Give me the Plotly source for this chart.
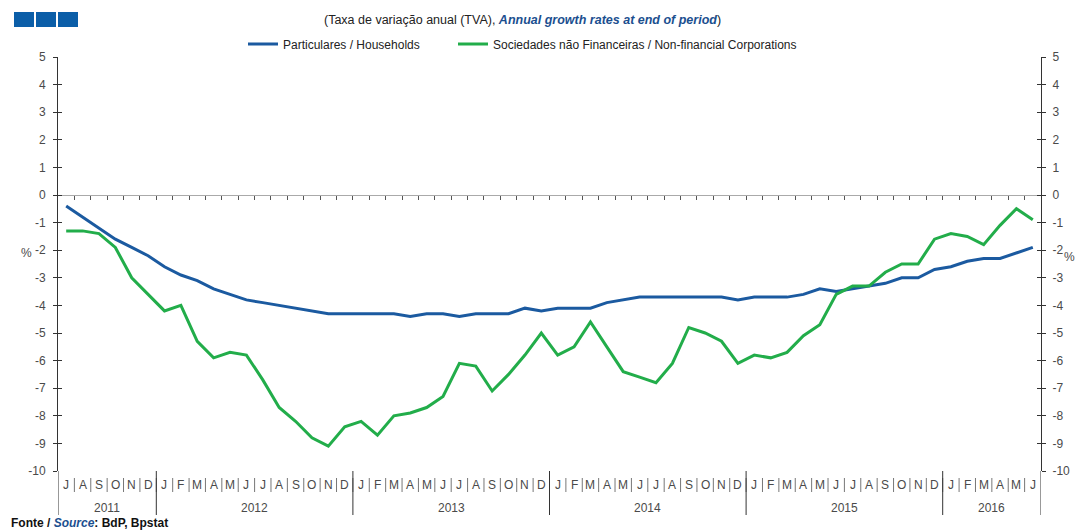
import plotly.graph_objects as go

# ---------------- data ----------------
month_letters = ["J","A","S","O","N","D",
                 "J","F","M","A","M","J","J","A","S","O","N","D",
                 "J","F","M","A","M","J","J","A","S","O","N","D",
                 "J","F","M","A","M","J","J","A","S","O","N","D",
                 "J","F","M","A","M","J","J","A","S","O","N","D",
                 "J","F","M","A","M","J"]
years = ["2011", "2012", "2013", "2014", "2015", "2016"]
months_per_year = [6, 12, 12, 12, 12, 6]

households = [-0.4, -0.8, -1.2, -1.6, -1.9, -2.2,
              -2.6, -2.9, -3.1, -3.4, -3.6, -3.8, -3.9, -4.0, -4.1, -4.2, -4.3, -4.3,
              -4.3, -4.3, -4.3, -4.4, -4.3, -4.3, -4.4, -4.3, -4.3, -4.3, -4.1, -4.2,
              -4.1, -4.1, -4.1, -3.9, -3.8, -3.7, -3.7, -3.7, -3.7, -3.7, -3.7, -3.8,
              -3.7, -3.7, -3.7, -3.6, -3.4, -3.5, -3.4, -3.3, -3.2, -3.0, -3.0, -2.7,
              -2.6, -2.4, -2.3, -2.3, -2.1, -1.9]

nfc = [-1.3, -1.3, -1.4, -1.9, -3.0, -3.6,
       -4.2, -4.0, -5.3, -5.9, -5.7, -5.8, -6.7, -7.7, -8.2, -8.8, -9.1, -8.4,
       -8.2, -8.7, -8.0, -7.9, -7.7, -7.3, -6.1, -6.2, -7.1, -6.5, -5.8, -5.0,
       -5.8, -5.5, -4.6, -5.5, -6.4, -6.6, -6.8, -6.1, -4.8, -5.0, -5.3, -6.1,
       -5.8, -5.9, -5.7, -5.1, -4.7, -3.6, -3.3, -3.3, -2.8, -2.5, -2.5, -1.6,
       -1.4, -1.5, -1.8, -1.1, -0.5, -0.9]

y_ticks = [5, 4, 3, 2, 1, 0, -1, -2, -3, -4, -5, -6, -7, -8, -9, -10]

series_names = ["Particulares / Households",
                "Sociedades não Financeiras / Non-financial Corporations"]

# ---------------- styling ----------------
BLUE = "#1b5aa0"
GREEN = "#22ad4a"
TXT = "#4a4a4a"
FONT = "Liberation Sans, Arial, sans-serif"
OFF = 8                      # page body margin offset
W, H = 1083 - OFF, 531 - OFF
PL, PR, PT, PB = 58, 1041, 57, 471   # plot area in page pixels
L, T = PL - OFF, PT - OFF
R, B = W - (PR - OFF), H - (PB - OFF)
PW = PR - PL
PH = PB - PT

def px_x(p):
    return (p - PL) / PW

def px_y(p):
    return (PB - p) / PH

n = len(households)
x = list(range(n))

fig = go.Figure()
fig.add_trace(go.Scatter(x=x, y=households, mode="lines", name=series_names[0],
                         line=dict(color=BLUE, width=3), hoverinfo="skip", legend="legend"))
fig.add_trace(go.Scatter(x=x, y=nfc, mode="lines", name=series_names[1],
                         line=dict(color=GREEN, width=3), hoverinfo="skip", legend="legend2"))
# invisible helpers so overlay axes are drawn
for ax in ["y2", "y3", "y4"]:
    fig.add_trace(go.Scatter(x=x, y=households, mode="lines", yaxis=ax, showlegend=False,
                             line=dict(width=0, color="rgba(0,0,0,0)"), hoverinfo="skip"))

yrng = [-10, 5]
tick_text = [str(v) for v in y_ticks]
base_y = dict(range=yrng, tickvals=y_ticks, ticktext=tick_text, showgrid=False, zeroline=False,
              showline=True, linecolor="#333", linewidth=1, tickcolor="#333")
label_font = dict(family=FONT, size=12, color=TXT)
leg_font = dict(family=FONT, size=12, color="#222")

fig.update_layout(
    width=W, height=H,
    margin=dict(l=L, r=R, t=T, b=B, autoexpand=False),
    paper_bgcolor="white", plot_bgcolor="white",
    font=dict(family=FONT, size=12, color=TXT),
    xaxis=dict(range=[-0.5, n - 0.5], anchor="free", position=10 / 15,
               showgrid=False, zeroline=False, showline=True, linecolor="#aaa",
               linewidth=1, ticks="outside", ticklen=4, tickcolor="#555",
               tickvals=[i - 0.5 for i in range(1, n)], showticklabels=False),
    yaxis=dict(side="left", ticks="outside", ticklen=4, tickfont=label_font,
               ticklabelstandoff=5, **base_y),
    yaxis3=dict(side="left", overlaying="y", ticks="inside", ticklen=4,
                showticklabels=False, **base_y),
    yaxis2=dict(side="right", overlaying="y", ticks="outside", ticklen=4, tickfont=label_font,
                ticklabelstandoff=4, **base_y),
    yaxis4=dict(side="right", overlaying="y", ticks="inside", ticklen=4,
                showticklabels=False, **base_y),
    legend=dict(orientation="h", x=px_x(243), xanchor="left", y=px_y(44), yanchor="middle",
                font=leg_font, bgcolor="rgba(0,0,0,0)", itemwidth=30),
    legend2=dict(orientation="h", x=px_x(453), xanchor="left", y=px_y(44), yanchor="middle",
                 font=leg_font, bgcolor="rgba(0,0,0,0)", itemwidth=30),
    showlegend=True,
)

shapes = []
annotations = []

# month labels and separators
for i, m in enumerate(month_letters):
    annotations.append(dict(x=i, y=px_y(485), xref="x", yref="paper", text=m,
                            showarrow=False, font=dict(family=FONT, size=12, color=TXT),
                            xanchor="center", yanchor="middle"))
for i in range(1, n):
    shapes.append(dict(type="line", xref="x", yref="paper", x0=i - 0.5, x1=i - 0.5,
                       y0=px_y(478), y1=px_y(492), line=dict(color="#777", width=1)))

# year separators and labels
start = 0
bounds = [0]
for cnt in months_per_year:
    start += cnt
    bounds.append(start)
for b in bounds:
    shapes.append(dict(type="line", xref="x", yref="paper", x0=b - 0.5, x1=b - 0.5,
                       y0=0, y1=px_y(515), line=dict(color="#333", width=1)))
for k, yr in enumerate(years):
    mid = (bounds[k] + bounds[k + 1] - 1) / 2
    annotations.append(dict(x=mid, y=px_y(508), xref="x", yref="paper", text=yr,
                            showarrow=False, font=dict(family=FONT, size=12, color=TXT),
                            xanchor="center", yanchor="middle"))

# % labels
annotations.append(dict(x=px_x(26), y=px_y(253), xref="paper", yref="paper", text="%",
                        showarrow=False, font=dict(family=FONT, size=12, color=TXT),
                        xanchor="center", yanchor="middle"))
annotations.append(dict(x=px_x(1069), y=px_y(257), xref="paper", yref="paper", text="%",
                        showarrow=False, font=dict(family=FONT, size=12, color=TXT),
                        xanchor="center", yanchor="middle"))

# title
annotations.append(dict(x=px_x(522), y=px_y(20), xref="paper", yref="paper",
                        text="(Taxa de variação anual (TVA), <b><i><span style='color:#1b4f8f'>Annual growth rates at end of period</span></i></b>)",
                        showarrow=False, font=dict(family=FONT, size=12.5, color="#222"),
                        xanchor="center", yanchor="middle"))

# source
annotations.append(dict(x=px_x(9), y=px_y(523), xref="paper", yref="paper",
                        text="<b>Fonte / <i><span style='color:#1b4f8f'>Source</span></i>: BdP, Bpstat</b>",
                        showarrow=False, font=dict(family="Liberation Sans Narrow, Arial Narrow, " + FONT, size=12, color="#111"),
                        xanchor="left", yanchor="middle"))

# decorative squares top-left
for x0 in [14, 36, 58]:
    shapes.append(dict(type="rect", xref="paper", yref="paper",
                       x0=px_x(x0), x1=px_x(x0 + 20), y0=px_y(12), y1=px_y(27),
                       fillcolor="#0b5ea8", line=dict(width=0)))

fig.update_layout(shapes=shapes, annotations=annotations)
fig.write_html("out.html")
